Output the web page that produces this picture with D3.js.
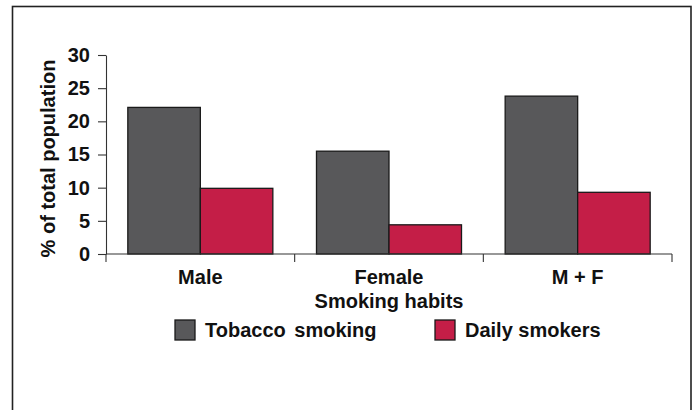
<!DOCTYPE html>
<html>
<head>
<meta charset="utf-8">
<script src="https://cdn.jsdelivr.net/npm/d3@7"></script>
<style>
  html, body { margin: 0; padding: 0; background: #fff; }
  svg { display: block; }
  text { font-family: "Liberation Sans", Arial, Helvetica, sans-serif; font-weight: bold; fill: #111; }
</style>
</head>
<body>
<svg id="chart" width="697" height="410"></svg>
<script>
const categories = ["Male", "Female", "M + F"];
const seriesNames = ["Tobacco smoking", "Daily smokers"];
const tobaccoSmoking = [22.1, 15.5, 23.8];
const dailySmokers = [9.9, 4.4, 9.3];
const yTicks = [0, 5, 10, 15, 20, 25, 30];
const colors = ["#58585a", "#c41e47"];
const seriesValues = [tobaccoSmoking, dailySmokers];

(function () {
const svg = d3.select("#chart");

// frame
svg.append("rect")
  .attr("x", 12.5).attr("y", 6.5)
  .attr("width", 678.5).attr("height", 420)
  .attr("fill", "none").attr("stroke", "#222").attr("stroke-width", 1.6);

const mLeft = 106, mRight = 672, mTop = 55, mBottom = 254;

const x0 = d3.scaleBand().domain(categories).range([mLeft, mRight]).paddingInner(0).paddingOuter(0);
const x1 = d3.scaleBand().domain(seriesNames).range([0, x0.bandwidth()]).paddingInner(0).paddingOuter(0.301);
const y = d3.scaleLinear().domain([0, 30]).range([mBottom, mTop]);

// bars
const groups = svg.append("g").selectAll("g")
  .data(categories)
  .join("g")
  .attr("transform", d => `translate(${x0(d)},0)`);

groups.selectAll("rect")
  .data((c, i) => seriesNames.map((s, j) => ({ s, j, v: seriesValues[j][i] })))
  .join("rect")
  .attr("x", d => x1(d.s))
  .attr("width", x1.bandwidth())
  .attr("y", d => y(d.v))
  .attr("height", d => y(0) - y(d.v))
  .attr("fill", d => colors[d.j])
  .attr("stroke", "#1a1a1a")
  .attr("stroke-width", 1.3);

// y axis
const yAxis = svg.append("g")
  .attr("transform", `translate(${mLeft},0)`)
  .call(d3.axisLeft(y).tickValues(yTicks).tickSize(8).tickPadding(8).tickSizeOuter(0));
yAxis.select(".domain").attr("stroke", "#333").attr("stroke-width", 1.1);
yAxis.selectAll(".tick line").attr("stroke", "#333").attr("stroke-width", 1.1);
yAxis.selectAll(".tick text")
  .attr("font-size", 20)
  .attr("font-family", "Liberation Sans, Arial, sans-serif")
  .attr("font-weight", "bold")
  .attr("fill", "#111");

// x axis: line + boundary ticks
const boundaries = categories.map(c => x0(c)).concat([x0.range()[1]]);
const xAxisG = svg.append("g").attr("transform", `translate(0,${mBottom})`);
xAxisG.append("line")
  .attr("x1", mLeft).attr("x2", mRight).attr("y1", 0).attr("y2", 0)
  .attr("stroke", "#333").attr("stroke-width", 1.1);
xAxisG.selectAll("line.bt")
  .data(boundaries)
  .join("line")
  .attr("class", "bt")
  .attr("x1", d => d).attr("x2", d => d)
  .attr("y1", 0).attr("y2", 8)
  .attr("stroke", "#333").attr("stroke-width", 1.1);

// category labels
svg.append("g").selectAll("text")
  .data(categories)
  .join("text")
  .attr("x", d => x0(d) + x0.bandwidth() / 2)
  .attr("y", 284)
  .attr("text-anchor", "middle")
  .attr("font-size", 20)
  .text(d => d);

// x title
svg.append("text")
  .attr("x", (mLeft + mRight) / 2)
  .attr("y", 307.5)
  .attr("text-anchor", "middle")
  .attr("font-size", 20)
  .text("Smoking habits");

// y title
svg.append("text")
  .attr("transform", `translate(55,${(mTop + mBottom) / 2 + 4}) rotate(-90)`)
  .attr("text-anchor", "middle")
  .attr("font-size", 20)
  .text("% of total population");

// legend
const legendX = [175, 435];
const legend = svg.append("g").selectAll("g")
  .data(seriesNames)
  .join("g")
  .attr("transform", (d, i) => `translate(${legendX[i]},320)`);
legend.append("rect")
  .attr("width", 20).attr("height", 20)
  .attr("fill", (d, i) => colors[i])
  .attr("stroke", "#1a1a1a").attr("stroke-width", 1.3);
legend.append("text")
  .attr("x", 30).attr("y", 16.5)
  .attr("font-size", 20)
  .attr("word-spacing", (d, i) => i === 0 ? 3 : 0)
  .text(d => d);
})();
</script>
</body>
</html>
